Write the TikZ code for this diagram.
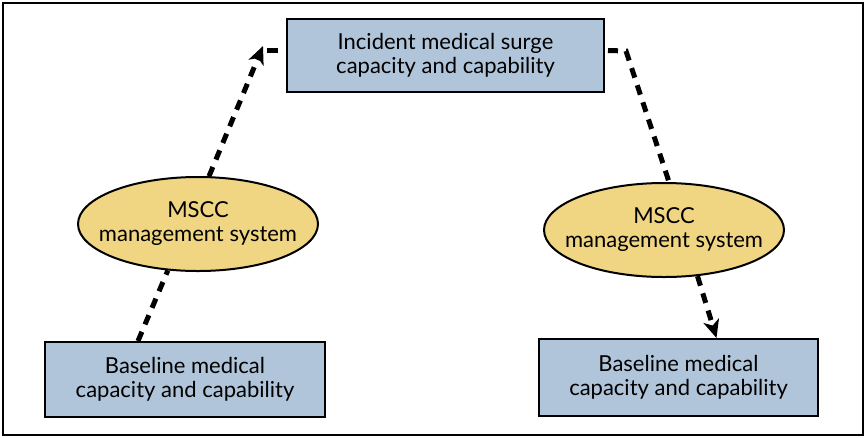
\documentclass[tikz,border=0pt]{standalone}
\usepackage{fontspec}
\setmainfont{Lato}
\usetikzlibrary{arrows.meta,shapes.geometric}
\definecolor{boxblue}{RGB}{176,197,218}
\definecolor{ellyel}{RGB}{240,213,130}
\begin{document}
\begin{tikzpicture}[x=1pt,y=-1pt,
  box/.style={draw=black,line width=2pt,fill=boxblue,inner sep=0pt,align=center,
    font=\fontsize{22}{24}\selectfont},
  ell/.style={ellipse,draw=black,line width=2pt,fill=ellyel,inner xsep=-16pt,inner ysep=0pt,
    align=center,font=\fontsize{22}{24}\selectfont},
  dsh/.style={line width=5pt,dash pattern=on 10pt off 8pt},
  tip/.style={-{Stealth[length=18pt,width=16pt,inset=5pt]}}]
\useasboundingbox (0,0) rectangle (866,437);
\draw[line width=2.2pt] (3,3) rectangle (863,435);
\node[box,minimum width=317pt,minimum height=73pt] (top) at (445.5,55.5)
  {Incident medical surge\\capacity and capability};
\node[box,minimum width=280pt,minimum height=75pt] (base1) at (185,379.5)
  {Baseline medical\\capacity and capability};
\node[box,minimum width=279pt,minimum height=77pt] (base2) at (678.5,377.5)
  {Baseline medical\\capacity and capability};
\node[ell,minimum width=240pt,minimum height=94pt] (ell1) at (198,224)
  {MSCC\\management system};
\node[ell,minimum width=240pt,minimum height=94pt] (ell2) at (664,230)
  {MSCC\\management system};
\coordinate (cornerL) at (263,46);
\coordinate (cornerR) at (626,51);
\draw[dsh] ([xshift=-47pt]base1.north) -- (ell1.237);
\draw[dsh,tip] (ell1.77) -- (cornerL);
\draw[dsh,dash pattern=on 11pt off 20pt] ([yshift=5pt,xshift=-8pt]top.west) -- ++(-11,0);
\draw[dsh] ([yshift=5pt,xshift=3pt]top.east) -- (cornerR) -- (ell2.84);
\draw[dsh,tip] (ell2.306) -- ([xshift=38pt]base2.north);
\end{tikzpicture}
\end{document}
